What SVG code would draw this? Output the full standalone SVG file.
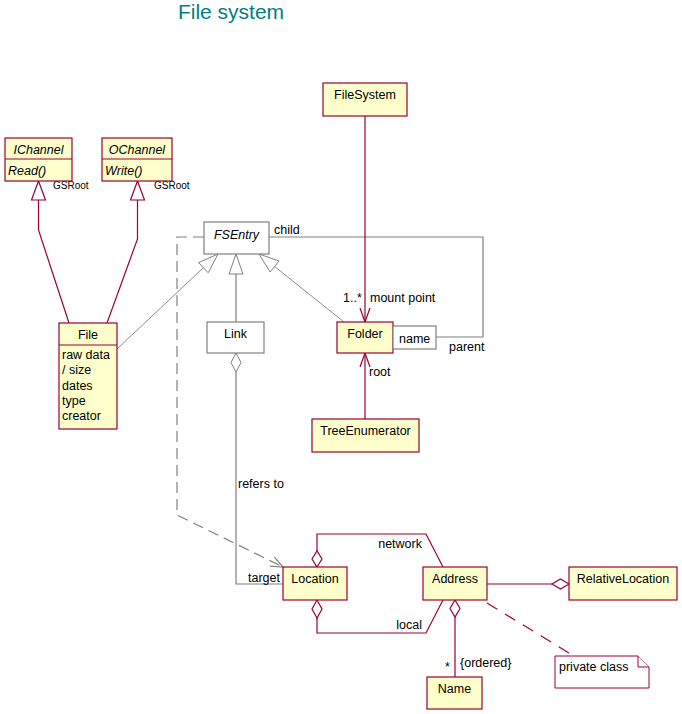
<svg xmlns="http://www.w3.org/2000/svg" width="682" height="714" viewBox="0 0 682 714">
  <style>
    text { font-family: "Liberation Sans", Arial, sans-serif; font-size: 12.5px; fill: #000; }
    .title { font-size: 21px; fill: #008080; }
    .cls { fill: #ffffcc; stroke: #990033; stroke-width: 1.2; }
    .plain { fill: #fff; stroke: #808080; stroke-width: 1.2; }
    .note { fill: #fff; stroke: #990033; stroke-width: 1; }
    .red { fill: none; stroke: #990033; stroke-width: 1.2; }
    .gray { fill: none; stroke: #808080; stroke-width: 1.2; }
    .gthin { fill: none; stroke: #808080; stroke-width: 0.9; }
    .dash { stroke-dasharray: 11 6; }
    .ndash { stroke-dasharray: 12 9; }
    .hollowR { fill: #fff; stroke: #990033; stroke-width: 1.2; }
    .hollowG { fill: #fff; stroke: #808080; stroke-width: 1; }
    .small { font-size: 10px; }
    .it { font-style: italic; }
    .mid { text-anchor: middle; }
    .end { text-anchor: end; }
  </style>

  <text class="title" x="231" y="19" text-anchor="middle">File system</text>

  <!-- connectors -->
  <g id="connectors">
    <!-- File realizes IChannel / OChannel -->
    <polyline class="red" points="38.5,200 38.5,230 69,323"/>
    <polygon class="hollowR" points="38.5,181 31.5,200 45.5,200"/>
    <text class="small" x="53" y="189">GSRoot</text>
    <polyline class="red" points="137.5,200 137.5,239 107,323"/>
    <polygon class="hollowR" points="137.5,181 130.5,200 144.5,200"/>
    <text class="small" x="154" y="189">GSRoot</text>

    <!-- generalizations to FSEntry -->
    <line class="gthin" x1="117" y1="349" x2="203.4" y2="267.7"/>
    <polygon class="hollowG" points="218,254 208.2,272.8 198.6,262.6"/>
    <line class="gray" x1="236" y1="274" x2="236" y2="322"/>
    <polygon class="hollowG" points="236,254 229,274 243,274"/>
    <line class="gthin" x1="344" y1="322" x2="274.6" y2="266.5"/>
    <polygon class="hollowG" points="259,254 279,261 270.2,272"/>

    <!-- child / parent self association -->
    <polyline class="gray" points="269,237 483,237 483,337 436,337"/>
    <text x="274" y="234">child</text>
    <text x="449" y="351">parent</text>

    <!-- FileSystem mount point -->
    <line class="red" x1="365" y1="116" x2="365" y2="322"/>
    <polyline class="red" points="360,308 365,322 370,308"/>
    <text x="343" y="302">1..*</text>
    <text x="370" y="302">mount point</text>

    <!-- TreeEnumerator root -->
    <line class="red" x1="365" y1="419" x2="365" y2="353"/>
    <polyline class="red" points="360,367 365,353 370,367"/>
    <text x="369" y="376">root</text>

    <!-- Link refers to Location -->
    <polyline class="gray" points="236,372 236,584 283,584"/>
    <polygon class="hollowG" points="236,353 241,362.5 236,372 231,362.5"/>
    <text x="238" y="488">refers to</text>
    <text x="248" y="582">target</text>

    <!-- FSEntry dependency on Location -->
    <polyline class="gray dash" points="204,237 177,237 177,515 283,567"/>
    <polyline class="gray" points="270,566.2 283,567 274.4,557.2"/>

    <!-- Location - Address associations -->
    <polyline class="red" points="317,551 317,534 426,534 443,567"/>
    <polygon class="hollowR" points="317,567 322,559 317,551 312,559"/>
    <text class="end" x="422" y="548">network</text>
    <polyline class="red" points="317,618 317,633 426,633 443,600"/>
    <polygon class="hollowR" points="317,600 322,609 317,618 312,609"/>
    <text class="end" x="422" y="629">local</text>

    <!-- Address - RelativeLocation -->
    <line class="red" x1="487" y1="584" x2="552" y2="584"/>
    <polygon class="hollowR" points="569,584 560.5,589 552,584 560.5,579"/>

    <!-- Address - Name -->
    <line class="red" x1="455" y1="617" x2="455" y2="677"/>
    <polygon class="hollowR" points="455,600 460,608.5 455,617 450,608.5"/>
    <text x="445" y="671">*</text>
    <text x="460" y="667">{ordered}</text>

    <!-- note anchor -->
    <line class="red ndash" x1="487" y1="603" x2="574" y2="656"/>
  </g>

  <g id="IChannel">
    <rect class="cls" x="5" y="138" width="67" height="43"/>
    <line class="red" x1="5" y1="159" x2="72" y2="159"/>
    <text class="it mid" x="38.5" y="154">IChannel</text>
    <text class="it" x="8" y="175">Read()</text>
  </g>

  <g id="OChannel">
    <rect class="cls" x="102" y="138" width="70" height="43"/>
    <line class="red" x1="102" y1="159" x2="172" y2="159"/>
    <text class="it mid" x="137" y="154">OChannel</text>
    <text class="it" x="105" y="175">Write()</text>
  </g>

  <g id="File">
    <rect class="cls" x="59" y="323" width="58" height="106"/>
    <line class="red" x1="59" y1="345" x2="117" y2="345"/>
    <text class="mid" x="88" y="339">File</text>
    <text x="62" y="359">raw data</text>
    <text x="62" y="374">/ size</text>
    <text x="62" y="390">dates</text>
    <text x="62" y="405">type</text>
    <text x="62" y="420">creator</text>
  </g>

  <g id="FSEntry">
    <rect class="plain" x="204" y="222" width="65" height="32"/>
    <text class="it mid" x="236.5" y="239">FSEntry</text>
  </g>

  <g id="Link">
    <rect class="plain" x="207" y="322" width="57" height="31"/>
    <text class="mid" x="235.5" y="338">Link</text>
  </g>

  <g id="FileSystem">
    <rect class="cls" x="323" y="83" width="84" height="33"/>
    <text class="mid" x="365" y="99">FileSystem</text>
  </g>

  <g id="Folder">
    <rect class="cls" x="337" y="322" width="56" height="31"/>
    <text class="mid" x="365" y="338">Folder</text>
    <rect class="plain" x="393" y="326" width="43" height="23"/>
    <text x="399" y="343">name</text>
  </g>

  <g id="TreeEnumerator">
    <rect class="cls" x="312" y="419" width="107" height="33"/>
    <text class="mid" x="365.5" y="435">TreeEnumerator</text>
  </g>

  <g id="Location">
    <rect class="cls" x="283" y="567" width="64" height="33"/>
    <text class="mid" x="315" y="583">Location</text>
  </g>

  <g id="Address">
    <rect class="cls" x="423" y="567" width="64" height="33"/>
    <text class="mid" x="455" y="583">Address</text>
  </g>

  <g id="RelativeLocation">
    <rect class="cls" x="569" y="567" width="108" height="33"/>
    <text class="mid" x="623" y="583">RelativeLocation</text>
  </g>

  <g id="Name">
    <rect class="cls" x="427" y="677" width="55" height="32"/>
    <text class="mid" x="454.5" y="693">Name</text>
  </g>

  <g id="PrivateClassNote">
    <path class="note" d="M555,656 H638 L649,667 V688 H555 Z"/>
    <polyline class="note" points="638,656 638,667 649,667" fill="none"/>
    <text x="559" y="671">private class</text>
  </g>
</svg>
